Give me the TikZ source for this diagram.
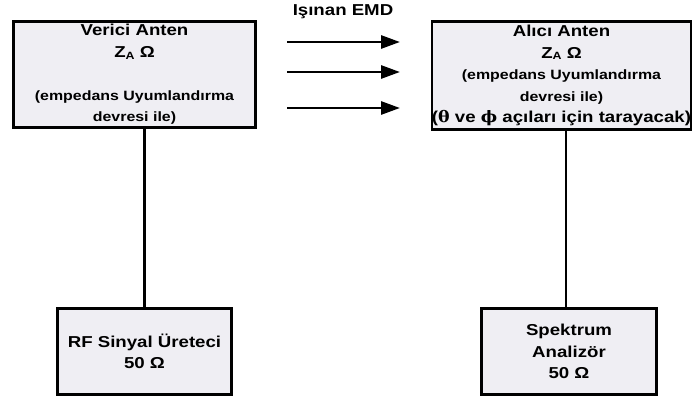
\documentclass[tikz,border=0pt]{standalone}
\usepackage{fontspec}
\setmainfont{Liberation Sans}[FakeStretch=1.18]
\newfontfamily\grkfont{DejaVu Serif}[FakeStretch=1.1]
\usetikzlibrary{arrows.meta}
\definecolor{boxfill}{RGB}{239,238,243}
\newcommand{\bigtx}{\fontsize{15.8}{21.5}\selectfont}
\newcommand{\smalltx}{\fontsize{13.5}{21.5}\selectfont}
\newcommand{\za}{Z\raisebox{-0.12em}{\fontsize{10.5}{12}\selectfont A} Ω}
\tikzset{
	blok/.style={draw=black, fill=boxfill, line width=2.6pt, inner sep=0pt,
		align=center, font=\bfseries\bigtx},
	hat/.style={line width=2.4pt},
	dalga/.style={line width=2.8pt, -{Triangle[length=19pt,width=13pt]}}
}
\begin{document}
\begin{tikzpicture}[x=1pt,y=-1pt]
	\useasboundingbox (0,0) rectangle (693,403);
	\node[blok, minimum width=242, minimum height=106] (ver) at (134.5,74.5)
		{Verici Anten\\\za\\ \\\smalltx(empedans Uyumlandırma\\\smalltx devresi ile)};
	\node[blok, minimum width=256, minimum height=108] (alici) at (561.5,75.5)
		{Alıcı Anten\\\za\\\smalltx(empedans Uyumlandırma\\\smalltx devresi ile)\\({\grkfont θ} ve {\grkfont ϕ} açıları için tarayacak)};
	\node[blok, minimum width=174, minimum height=86] (rf) at (144.5,351.5)
		{RF Sinyal Üreteci\\50 Ω};
	\node[blok, minimum width=175, minimum height=86] (spek) at (569,351.5)
		{Spektrum\\Analizör\\50 Ω};
	\node[font=\bfseries\bigtx] (emd) at (343,12) {Işınan EMD};
	\coordinate (d1) at (287,42);
	\coordinate (d2) at (287,72);
	\coordinate (d3) at (287,108);
	\coordinate (u1) at (400,42);
	\coordinate (u2) at (400,72);
	\coordinate (u3) at (400,108);
	\draw[dalga] (d1) -- (u1);
	\draw[dalga] (d2) -- (u2);
	\draw[dalga] (d3) -- (u3);
	\draw[hat] (ver.south -| rf.north) -- (rf.north);
	\draw[hat] (alici.south -| 566,0) -- (566,0 |- spek.north);
\end{tikzpicture}
\end{document}
